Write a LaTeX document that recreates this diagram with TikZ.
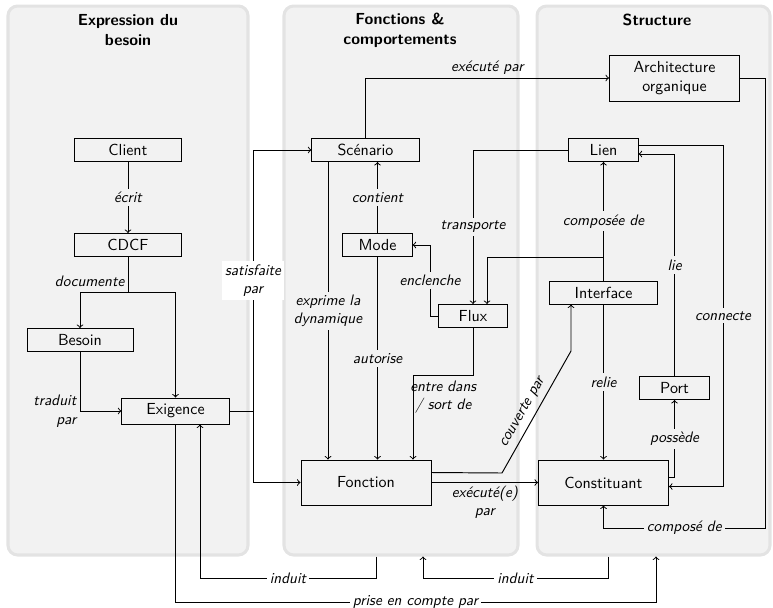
\documentclass[tikz,border=0pt]{standalone}
\usepackage{fontspec}
\usepackage{tikz}

\definecolor{zonefill}{HTML}{F2F2F2}
\definecolor{zoneline}{HTML}{E3E3E3}

\tikzset{
  zone/.style={draw=zoneline, fill=zonefill, line width=1.9pt, rounded corners=6pt, minimum height=343.1pt},
  zonetitle/.style={font=\fontsize{10}{12.5}\selectfont\sffamily\bfseries, align=center},
  bloc/.style={draw, fill=zonefill, minimum width=67pt, minimum height=14.4pt, inner sep=1pt, align=center},
  petit/.style={bloc, minimum width=43.3pt},
  grand/.style={bloc, minimum width=81.25pt, minimum height=28.1pt},
  rel/.style={font=\fontsize{9.5}{11.5}\selectfont\sffamily\itshape, align=center, inner sep=2pt},
  surzone/.style={rel, fill=zonefill},
  dehors/.style={rel, fill=white}
}

\begin{document}
\begin{tikzpicture}[x=0.625pt, y=-0.625pt, font=\sffamily, line width=0.6pt]
    \useasboundingbox (0,0) rectangle (773,607);
    % Zones
    \node[zone, minimum width=150pt]    (besoinzone) at (128,280.5) {};
    \node[zone, minimum width=146.25pt] (fonczone)   at (401,280.5) {};
    \node[zone, minimum width=145.6pt]  (structzone) at (653.5,280.5) {};
    \node[zonetitle] (titrebesoin) at (128,30) {Expression du\\besoin};
    \node[zonetitle] (titrefonc)   at (400,30) {Fonctions \&\\comportements};
    \node[zonetitle] (titrestruct) at (657,20) {Structure};

    % Blocs
    \node[bloc] (client)   at (128,150) {Client};
    \node[bloc] (cdcf)     at (128,245) {CDCF};
    \node[bloc, minimum width=66.25pt] (besoin) at (80,340) {Besoin};
    \node[bloc, minimum height=16.25pt] (exigence) at (175.5,411) {Exigence};
    \node[bloc]  (scenario)    at (365.5,150) {Scénario};
    \node[petit] (mode)        at (377.5,245) {Mode};
    \node[petit] (flux)        at (473,316) {Flux};
    \node[grand] (fonction)    at (366,482.5) {Fonction};
    \node[grand, minimum height=28.75pt] (archi) at (674.5,78) {Architecture\\organique};
    \node[petit] (lien)        at (603.5,150) {Lien};
    \node[bloc]  (interface)   at (603.5,292.5) {Interface};
    \node[petit] (port)        at (674.5,388) {Port};
    \node[grand] (constituant) at (603.5,482.5) {Constituant};

    % Points de passage
    \coordinate (doc)  at (128,292);
    \coordinate (sat)  at (253,411);
    \coordinate (dyn)  at (328,0);
    \coordinate (enc)  at (430,0);
    \coordinate (ifl)  at (487,257);
    \coordinate (ent)  at (413,375);
    \coordinate (cov1) at (502,473);
    \coordinate (cov2) at (571,351);
    \coordinate (conn) at (723,0);
    \coordinate (comp) at (765,528);
    \coordinate (ind1) at (376,578);
    \coordinate (ind2) at (200,578);
    \coordinate (ind3) at (608,578);
    \coordinate (ind4) at (423,578);
    \coordinate (pec1) at (175,602);
    \coordinate (pec2) at (656,602);
    \coordinate (foncout) at ([yshift=6.25pt]fonction.east);
    \coordinate (lienout) at ([yshift=3.1pt]lien.east);
    \coordinate (lienin)  at ([yshift=-2.5pt]lien.east);
    \coordinate (cstout)  at ([yshift=3.1pt]constituant.east);
    \coordinate (cstin)   at ([yshift=-2.5pt]constituant.east);

    % Expression du besoin
    \draw[->] (client) -- node[surzone] {écrit} (cdcf);
    \draw[->] (cdcf) -- node[rel, left, pos=0.7] {documente} (doc) -| (besoin);
    \draw[->] (doc) -| (exigence);
    \draw[->] (besoin) |- node[rel, left, align=right] {traduit\\par} (exigence);
    \draw[->] (exigence) -- (sat) |- node[dehors, pos=0.25] {satisfaite\\par} (scenario);
    \draw[->] (sat) |- (fonction);

    % Fonctions & comportements
    \draw[->] (scenario) |- node[rel, above, pos=0.75] {exécuté par} (archi);
    \draw[->] (mode) -- node[surzone] {contient} (mode |- scenario.south);
    \draw[->] (mode) -- node[surzone] {autorise} (mode |- fonction.north);
    \draw[->] (scenario.south -| dyn) -- node[surzone] {exprime la\\dynamique} (fonction.north -| dyn);
    \draw[->] (flux.west) -- (flux.west -| enc) |- node[surzone, pos=0.25] {enclenche} (mode);
    \draw[->] (lien) -| node[surzone, pos=0.75] {transporte} (flux);
    \draw[->] (interface) -- (interface |- ifl) -| (flux.north -| ifl);
    \draw[->] (flux) |- (ent) -- node[rel, pos=0.26, anchor=west, inner xsep=0pt, xshift=-2pt] {entre dans\\/ sort de} (ent |- fonction.north);
    \draw[->] (foncout) -- (cov1) -- node[rel, sloped, above=1.5pt, pos=0.45] {couverte par} (cov2) -- (cov2 |- interface.south);
    \draw[->] (fonction) -- node[rel, below] {exécuté(e)\\par} (constituant);

    % Structure
    \draw[->] (interface) -- node[surzone] {composée de} (lien);
    \draw[->] (interface) -- node[surzone] {relie} (constituant);
    \draw[->] (cstout) -| node[surzone, pos=0.75] {possède} (port);
    \draw[->] (port) |- node[surzone, pos=0.25] {lie} (lienin);
    \draw[->] (lienout) -| node[surzone, pos=0.75] {connecte} (conn |- cstin) -- (cstin);
    \draw[->] (archi) -| (comp) -| node[surzone, pos=0.25] {composé de} (constituant);

    % Entre les zones
    \draw[->] (fonczone.south -| ind1) -- (ind1) -- node[dehors] {induit} (ind2) -- (ind2 |- exigence.south);
    \draw[->] (structzone.south -| ind3) -- (ind3) -- node[dehors] {induit} (ind4) -- (ind4 |- fonczone.south);
    \draw[->] (exigence.south -| pec1) -- (pec1) -- node[dehors] {prise en compte par} (pec2) -- (pec2 |- structzone.south);
\end{tikzpicture}
\end{document}
